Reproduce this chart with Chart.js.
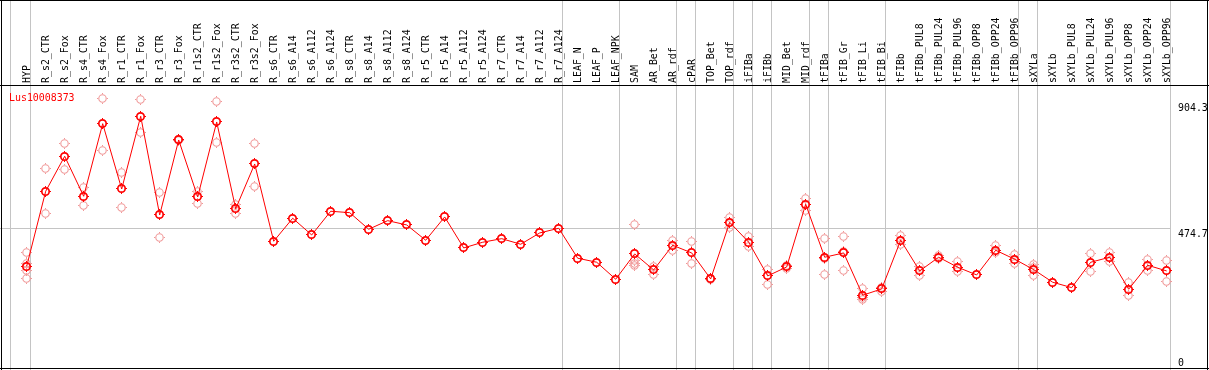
<!DOCTYPE html>
<html><head><meta charset="utf-8">
<script src="https://cdn.jsdelivr.net/npm/chart.js@4/dist/chart.umd.min.js"></script>
<style>html,body{margin:0;padding:0;background:#fff;overflow:hidden}</style>
</head><body>
<canvas id="c" width="1209" height="370" style="display:block"></canvas>
<script>
const categories = ["HYP","R_s2_CTR","R_s2_Fox","R_s4_CTR","R_s4_Fox","R_r1_CTR","R_r1_Fox","R_r3_CTR","R_r3_Fox","R_r1s2_CTR","R_r1s2_Fox","R_r3s2_CTR","R_r3s2_Fox","R_s6_CTR","R_s6_A14","R_s6_A112","R_s6_A124","R_s8_CTR","R_s8_A14","R_s8_A112","R_s8_A124","R_r5_CTR","R_r5_A14","R_r5_A112","R_r5_A124","R_r7_CTR","R_r7_A14","R_r7_A112","R_r7_A124","LEAF_N","LEAF_P","LEAF_NPK","SAM","AR_Bet","AR_rdf","cPAR","TOP_Bet","TOP_rdf","iFIBa","iFIBb","MID_Bet","MID_rdf","tFIBa","tFIB_Gr","tFIB_Li","tFIB_Bi","tFIBb","tFIBb_PUL8","tFIBb_PUL24","tFIBb_PUL96","tFIBb_OPP8","tFIBb_OPP24","tFIBb_OPP96","sXYLa","sXYLb","sXYLb_PUL8","sXYLb_PUL24","sXYLb_PUL96","sXYLb_OPP8","sXYLb_OPP24","sXYLb_OPP96"];

const meanValues = [345.7,600.4,719.3,583.4,830.0,608.2,855.1,519.9,774.6,581.1,835.8,541.0,693.1,430.6,508.7,452.0,532.5,527.7,471.4,500.6,486.0,434.0,513.1,407.9,427.2,439.4,420.4,458.8,474.7,372.9,359.3,301.6,387.5,333.1,417.0,390.9,302.6,495.1,427.2,312.8,343.3,556.3,376.3,390.9,247.2,268.6,434.0,329.7,376.3,342.3,316.2,400.0,369.5,334.2,291.4,273.0,359.3,376.3,267.6,349.1,329.7];

const replicateValues = [
  [390.7,356.7,330.8,304.3],[676.2,525.7],[761.0,673.8],[614.0,552.9],[916.2,739.6],
  [664.9,546.0],[911.5,798.4],[597.0,444.2],[777.0,773.0],[600.4,558.3],
  [903.7,766.8],[555.0,523.3],[763.4,617.4],[],[],
  [],[],[],[],[],
  [],[],[],[],[],
  [],[],[],[],[],
  [],[],[486.0,364.7,354.5,347.8],[345.7,317.2],[432.7,398.7],
  [428.2,355.9],[305.0,299.0],[510.8,478.2],[445.2,412.3],[334.2,284.6],
  [347.8,337.6],[574.3,535.9],[440.8,371.5,318.5],[445.2,396.7,332.1],[268.6,241.0,232.3],
  [274.4,259.5],[451.0,419.0],[345.7,313.8],[381.0,372.0],[361.3,326.4],
  [],[414.7,393.3],[384.1,353.5],[351.1,342.3,315.1],[],
  [],[387.5,328.7],[391.9,361.3],[289.0,247.2],[369.5,330.8],
  [366.1,294.8]
];

const yTickValues = [904.3, 474.7, 0];
const yTickLabels = ["904.3", "474.7", "0"];
const geneName = "Lus10008373";
const separatorPositions = [0.15,1.2,29.2,32.2,35.2,36.2,38.2,39.2,40.2,42.2,43.2,46.2,53.2,54.2,61.2];
const gridValue = 474.7;

const FONT_FAMILY = '"DejaVu Sans Mono", monospace';
const RED = '#ff0000';
const PINK = '#f09898';
const GRAY = '#c4c4c4';

function makeMarker(color, lw, size, r) {
  const c = document.createElement('canvas');
  c.width = size; c.height = size;
  const g = c.getContext('2d');
  const m = size / 2, mid = Math.floor(size / 2);
  g.strokeStyle = color;
  g.lineWidth = lw;
  g.beginPath(); g.arc(m, m, r, 0, Math.PI * 2); g.stroke();
  g.fillStyle = color;
  g.fillRect(mid, 0, 1, 1);
  g.fillRect(mid, size - 1, 1, 1);
  g.fillRect(0, mid, 1, 1);
  g.fillRect(size - 1, mid, 1, 1);
  return c;
}
const meanMarker = makeMarker(RED, 1.7, 11, 3.7);
const repMarker = makeMarker(PINK, 1.1, 11, 3.7);

function drawText(ctx, txt, x, y, color, rotate) {
  ctx.save();
  ctx.translate(x, y);
  if (rotate) ctx.rotate(-Math.PI / 2);
  ctx.scale(0.9, 1);
  ctx.fillStyle = color;
  ctx.font = '11px ' + FONT_FAMILY;
  ctx.textAlign = 'left';
  ctx.textBaseline = 'alphabetic';
  ctx.fillText(txt, 0, 0);
  ctx.restore();
}

const decorPlugin = {
  id: 'decor',
  beforeDraw(chart) {
    const ctx = chart.ctx;
    const xs = chart.scales.x, ys = chart.scales.y;
    ctx.save();
    ctx.fillStyle = '#fff';
    ctx.fillRect(0, 0, chart.width, chart.height);
    ctx.fillStyle = GRAY;
    separatorPositions.forEach(p => {
      const px = Math.floor(xs.getPixelForValue(p));
      ctx.fillRect(px, 0, 1, chart.height);
    });
    const gy = Math.floor(ys.getPixelForValue(gridValue));
    const gx = Math.floor(xs.getPixelForValue(separatorPositions[separatorPositions.length - 1]));
    ctx.fillRect(0, gy, gx, 1);
    ctx.restore();
  },
  beforeDatasetsDraw(chart) {
    chart.ctx.imageSmoothingEnabled = false;
  },
  afterDatasetsDraw(chart) {
    chart.ctx.imageSmoothingEnabled = true;
  },
  afterDraw(chart) {
    const ctx = chart.ctx;
    const xs = chart.scales.x, ys = chart.scales.y;
    categories.forEach((c, i) => {
      const px = xs.getPixelForValue(i + 1);
      drawText(ctx, c, Math.round(px) + 3, 83, '#000', true);
    });
    const lx = 1178;
    yTickValues.forEach((v, i) => {
      let py = ys.getPixelForValue(v) + 9;
      if (py > chart.chartArea.bottom - 2) py = chart.chartArea.bottom - 2;
      drawText(ctx, yTickLabels[i], lx, py, '#000', false);
    });
    drawText(ctx, geneName, 9, 101, RED, false);
    ctx.save();
    ctx.fillStyle = '#000';
    ctx.fillRect(0, 0, chart.width, 1);
    ctx.fillRect(0, 85, chart.width, 1);
    ctx.fillRect(0, 368, chart.width, 1);
    ctx.fillRect(1, 0, 1, chart.height);
    ctx.fillRect(1207, 0, 1, chart.height);
    ctx.restore();
  }
};

const meanData = categories.map((c, i) => ({ x: i + 1, y: meanValues[i] }));
const repData = replicateValues.flatMap((arr, i) => arr.map(v => ({ x: i + 1, y: v })));

new Chart(document.getElementById('c'), {
  type: 'line',
  data: {
    datasets: [
      {
        label: geneName,
        data: meanData,
        borderColor: RED,
        borderWidth: 1,
        tension: 0,
        pointStyle: meanMarker,
        pointRadius: 5,
        order: 0,
        clip: false
      },
      {
        label: 'replicates',
        data: repData,
        showLine: false,
        pointStyle: repMarker,
        pointRadius: 5,
        order: 1,
        clip: false
      }
    ]
  },
  options: {
    responsive: false,
    devicePixelRatio: 1,
    animation: false,
    events: [],
    layout: { autoPadding: false, padding: { top: 85, left: 1, right: 1, bottom: 2 } },
    plugins: { legend: { display: false }, tooltip: { enabled: false }, title: { display: false } },
    scales: {
      x: { type: 'linear', display: false, min: -0.3526, max: 63.174 },
      y: { type: 'linear', display: false, min: 0, max: 961.4 }
    }
  },
  plugins: [decorPlugin]
});
</script>
</body></html>
